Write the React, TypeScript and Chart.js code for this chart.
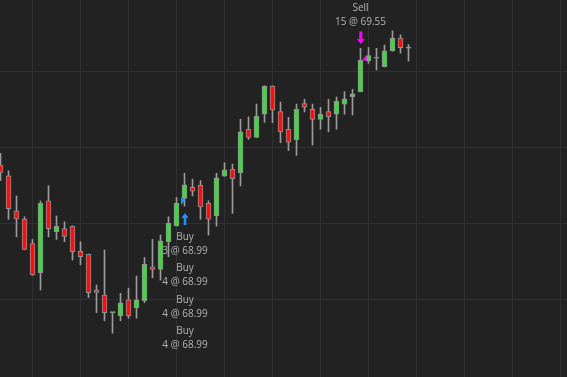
import React, { useEffect, useRef } from "react";
import { Chart, registerables } from "chart.js";

Chart.register(...registerables);

// OHLC values, one per bar (bar index = position in array)
const opens = [
  69.130, 69.088, 68.950, 68.918, 68.821, 68.707, 68.990, 68.868, 68.880, 68.889,
  68.791, 68.779, 68.639, 68.619, 68.550, 68.538, 68.600, 68.569, 68.597, 68.730,
  68.720, 68.829, 68.891, 68.999, 69.043, 69.051, 68.980, 68.930, 69.087, 69.113,
  69.100, 69.271, 69.239, 69.330, 69.441, 69.340, 69.271, 69.230, 69.372, 69.349,
  69.310, 69.340, 69.330, 69.370, 69.399, 69.419, 69.540, 69.550, 69.517, 69.579,
  69.629, 69.590,
];
const highs = [
  69.176, 69.108, 69.009, 68.927, 68.838, 68.989, 69.049, 68.930, 68.907, 68.891,
  68.829, 68.780, 68.659, 68.796, 68.551, 68.626, 68.646, 68.694, 68.767, 68.838,
  68.855, 68.927, 69.003, 69.098, 69.075, 69.069, 68.990, 69.098, 69.139, 69.134,
  69.310, 69.320, 69.370, 69.442, 69.442, 69.378, 69.318, 69.370, 69.389, 69.370,
  69.357, 69.389, 69.398, 69.419, 69.428, 69.589, 69.592, 69.589, 69.602, 69.658,
  69.642, 69.604,
];
const lows = [
  69.069, 68.917, 68.848, 68.797, 68.696, 68.639, 68.848, 68.838, 68.829, 68.757,
  68.738, 68.609, 68.550, 68.518, 68.469, 68.518, 68.528, 68.528, 68.589, 68.687,
  68.678, 68.770, 68.890, 68.969, 69.009, 68.917, 68.855, 68.890, 69.086, 68.940,
  69.048, 69.231, 69.238, 69.298, 69.297, 69.218, 69.187, 69.168, 69.339, 69.209,
  69.271, 69.261, 69.271, 69.330, 69.327, 69.418, 69.530, 69.504, 69.516, 69.578,
  69.570, 69.539,
];
const closes = [
  69.101, 68.959, 68.918, 68.799, 68.698, 68.980, 68.880, 68.889, 68.850, 68.790,
  68.770, 68.628, 68.629, 68.550, 68.550, 68.589, 68.538, 68.600, 68.740, 68.720,
  68.832, 68.901, 68.980, 69.052, 69.028, 68.966, 68.917, 69.080, 69.111, 69.077,
  69.261, 69.239, 69.323, 69.441, 69.347, 69.261, 69.220, 69.349, 69.358, 69.310,
  69.331, 69.320, 69.382, 69.391, 69.410, 69.542, 69.561, 69.550, 69.579, 69.629,
  69.592, 69.590,
];

// grid tick positions
const xTicks = [4, 10, 16, 22, 28, 34, 40, 46, 52, 58, 64, 70];
const yTicks = [68.6, 68.9, 69.2, 69.5];

// trades
const buyIndex = 23;
const buyPrice = 68.99;
const buyQtys = [3, 4, 4, 4];
const sellIndex = 45;
const sellPrice = 69.55;
const sellQtys = [15];

const X_MIN = -0.0625;
const X_MAX = 70.8125;
const Y_MIN = 68.2969;
const Y_MAX = 69.7792;

const GREEN = "#3ed83e";
const RED = "#ff0d0d";
const TEXT = "#b4b4b4";
const FONT = '10px "Open Sans"';

const tradePlugin = {
  id: "trades",
  beforeDatasetsDraw(chart: any) {
    const { ctx, scales } = chart;
    const xs = scales.x;
    const ys = scales.y;
    ctx.save();
    ctx.font = FONT;
    ctx.fillStyle = TEXT;
    ctx.textAlign = "center";
    ctx.textBaseline = "middle";
    // buy labels below the bar
    const bx = xs.getPixelForValue(buyIndex) + 0.5;
    const bTip = ys.getPixelForValue(lows[buyIndex]) + 7;
    buyQtys.forEach((q, k) => {
      const y0 = bTip + 23.7 + k * 31.5;
      ctx.fillText("Buy", bx, y0);
      ctx.fillText(`${q} @ ${buyPrice.toFixed(2)}`, bx, y0 + 14.2);
    });
    // sell labels above the bar
    const sx = xs.getPixelForValue(sellIndex);
    const sTip = ys.getPixelForValue(highs[sellIndex]) - 4.4;
    sellQtys.forEach((q, k) => {
      const y0 = sTip - 21.5 - k * 31.5;
      ctx.fillText(`${q} @ ${sellPrice.toFixed(2)}`, sx, y0);
      ctx.fillText("Sell", sx, y0 - 14.5);
    });
    ctx.restore();
  },
  afterDatasetsDraw(chart: any) {
    const { ctx, scales } = chart;
    const xs = scales.x;
    const ys = scales.y;
    ctx.save();
    // buy arrow (up)
    const bx = xs.getPixelForValue(buyIndex) + 0.5;
    const bTip = ys.getPixelForValue(lows[buyIndex]) + 7;
    ctx.fillStyle = "#1e90ff";
    ctx.beginPath();
    ctx.moveTo(bx, bTip);
    ctx.lineTo(bx - 3.6, bTip + 5);
    ctx.lineTo(bx + 3.6, bTip + 5);
    ctx.closePath();
    ctx.fill();
    ctx.fillRect(bx - 1.3, bTip + 5, 2.6, 7);
    // buy marker at price
    const bp = ys.getPixelForValue(buyPrice);
    const bcx = xs.getPixelForValue(buyIndex);
    ctx.beginPath();
    ctx.moveTo(bcx - 3.5, bp - 3.5);
    ctx.lineTo(bcx + 0.8, bp - 1);
    ctx.lineTo(bcx - 3.5, bp + 4.5);
    ctx.closePath();
    ctx.fill();

    // sell arrow (down)
    const sx = xs.getPixelForValue(sellIndex) + 0.3;
    const sTip = ys.getPixelForValue(highs[sellIndex]) - 4.4;
    ctx.fillStyle = "#ff00ff";
    ctx.beginPath();
    ctx.moveTo(sx, sTip);
    ctx.lineTo(sx - 4, sTip - 5);
    ctx.lineTo(sx + 4, sTip - 5);
    ctx.closePath();
    ctx.fill();
    ctx.fillRect(sx - 1.5, sTip - 12.5, 3, 7.5);
    // sell marker at price
    const sp = ys.getPixelForValue(sellPrice);
    const scx = xs.getPixelForValue(sellIndex);
    ctx.beginPath();
    ctx.moveTo(scx + 6, sp - 3.5);
    ctx.lineTo(scx + 6, sp + 3);
    ctx.lineTo(scx + 1.8, sp + 1.5);
    ctx.closePath();
    ctx.fill();
    ctx.restore();
  },
};

export default function App() {
  const ref = useRef<HTMLCanvasElement | null>(null);

  useEffect(() => {
    document.body.style.margin = "0";
    document.body.style.background = "#222222";
    const canvas = ref.current;
    if (!canvas) return;
    const idx = opens.map((_, i) => i);
    const colors = idx.map((i) => (closes[i] >= opens[i] ? GREEN : RED));
    const chart = new Chart(canvas, {
      type: "bar",
      data: {
        datasets: [
          {
            label: "body",
            data: idx.map((i) => ({ x: i, y: [opens[i], closes[i]] })) as any,
            backgroundColor: colors,
            borderColor: "#909090",
            borderWidth: 1,
            borderSkipped: false,
            barThickness: 5,
            minBarLength: 1,
            grouped: false,
          } as any,
          {
            label: "wick",
            data: idx.map((i) => ({ x: i, y: [lows[i], highs[i]] })) as any,
            backgroundColor: "#9a9a9a",
            borderWidth: 0,
            barThickness: 1,
            grouped: false,
          } as any,
        ],
      },
      options: {
        animation: false,
        responsive: false,
        devicePixelRatio: 1,
        events: [],
        layout: { padding: 0 },
        plugins: {
          legend: { display: false },
          tooltip: { enabled: false },
        },
        scales: {
          x: {
            type: "linear",
            min: X_MIN,
            max: X_MAX,
            offset: false,
            bounds: "data",
            grid: { color: "#303030", offset: false, drawTicks: false, lineWidth: 1 },
            border: { display: false },
            ticks: { display: false },
            afterBuildTicks: (s: any) => {
              s.ticks = xTicks.map((v) => ({ value: v }));
            },
          },
          y: {
            type: "linear",
            min: Y_MIN,
            max: Y_MAX,
            beginAtZero: false,
            bounds: "data",
            grid: { color: "#303030", drawTicks: false, lineWidth: 1 },
            border: { display: false },
            ticks: { display: false },
            afterBuildTicks: (s: any) => {
              s.ticks = yTicks.map((v) => ({ value: v }));
            },
          },
        },
      } as any,
      plugins: [tradePlugin],
    });
    return () => chart.destroy();
  }, []);

  return (
    <div style={{ position: "fixed", left: 0, top: 0, width: 567, height: 377, background: "#222222" }}>
      <canvas ref={ref} width={567} height={377} style={{ display: "block", width: 567, height: 377 }} />
    </div>
  );
}
